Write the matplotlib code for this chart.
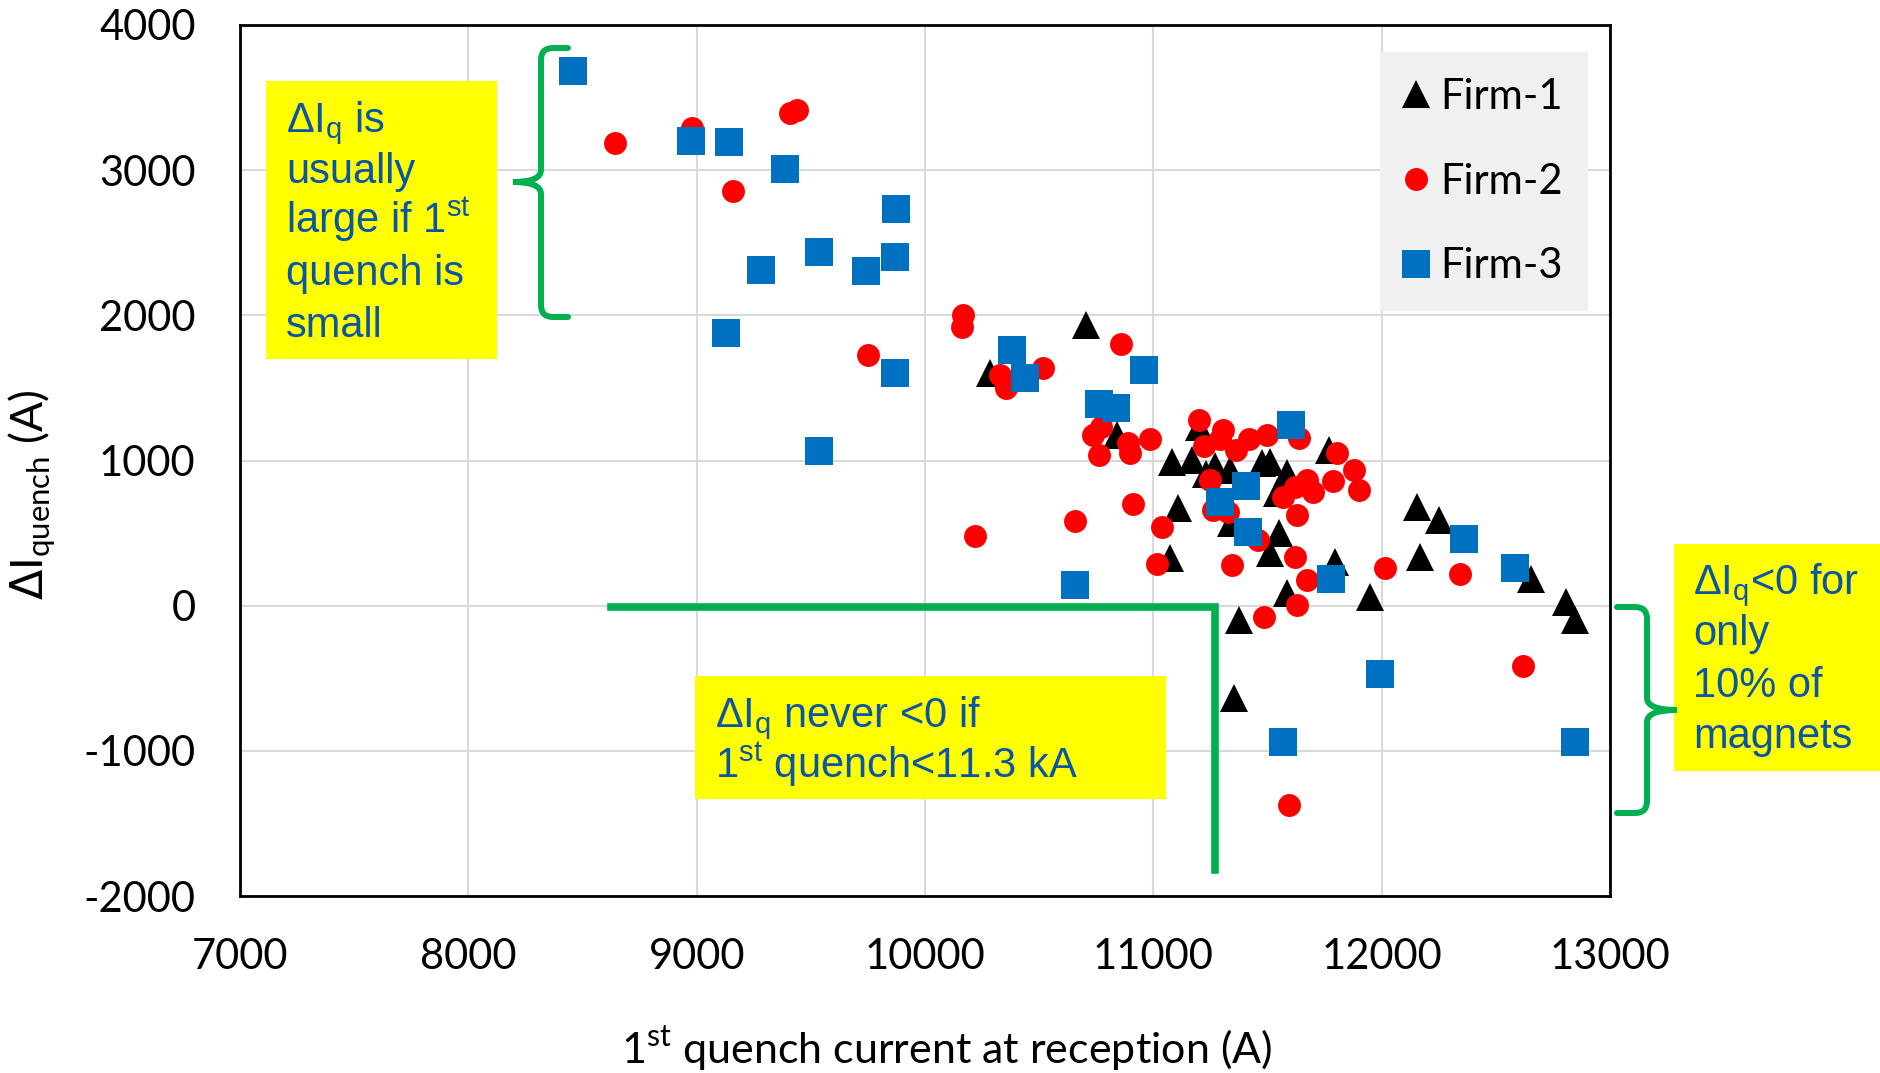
import matplotlib
matplotlib.use('Agg')
import matplotlib.pyplot as plt
import matplotlib.transforms as mtransforms
from matplotlib.path import Path
from matplotlib.patches import PathPatch, Rectangle

# Firm-1 (black triangles)
firm1_x = [10285, 10705, 10840, 11080, 11168, 11110, 11073, 11198, 11230, 11270,
           11336, 11475, 11512, 11585, 11541, 11771, 11340, 11552, 11512, 11796,
           11587, 11377, 11353, 11947, 12154, 12252, 12166, 12655, 12808, 12848]
firm1_y = [1600, 1933, 1175, 991, 1003, 670, 325, 1232, 905, 960,
           934, 980, 991, 911, 773, 1072, 570, 498, 360, 302,
           84, -100, -636, 61, 681, 589, 336, 187, 26, -100]

# Firm-2 (red circles)
firm2_x = [8643, 8978, 9409, 9438, 9159, 10168, 10161, 9749, 10515, 10330,
           10355, 10860, 10735, 10770, 10760, 10890, 10900, 10985, 10910, 10655,
           10220, 11040, 11015, 11198, 11220, 11307, 11290, 11363, 11417, 11497,
           11636, 11804, 11880, 11902, 11786, 11701, 11672, 11621, 11570, 11628,
           11249, 11263, 11329, 11460, 11621, 11675, 11628, 11485, 11346, 12015,
           12341, 12621, 11595]
firm2_y = [3190, 3289, 3396, 3415, 2855, 2002, 1921, 1726, 1640, 1590,
           1500, 1800, 1175, 1230, 1040, 1120, 1050, 1150, 700, 580,
           480, 540, 290, 1278, 1099, 1210, 1145, 1072, 1145, 1175,
           1152, 1049, 934, 796, 858, 784, 865, 819, 750, 624,
           865, 658, 646, 451, 336, 176, 3, -77, 279, 261,
           215, -417, -1371]

# Firm-3 (blue squares)
firm3_x = [8459, 8973, 9142, 9387, 9873, 9536, 9869, 9282, 9742, 9129,
           9869, 9536, 10380, 10438, 10960, 10763, 10837, 10657, 11604, 11405,
           11290, 11415, 11779, 12360, 12585, 11993, 11568, 12848]
firm3_y = [3686, 3201, 3196, 3008, 2733, 2436, 2402, 2312, 2307, 1880,
           1604, 1066, 1761, 1570, 1623, 1389, 1363, 141, 1244, 826,
           715, 509, 185, 460, 261, -472, -941, -941]

x_ticks = [7000, 8000, 9000, 10000, 11000, 12000, 13000]
y_ticks = [-2000, -1000, 0, 1000, 2000, 3000, 4000]

plt.rcParams['axes.unicode_minus'] = False
tick_font = ['Lato', 'DejaVu Sans']
note_font = ['Liberation Sans', 'DejaVu Sans']
note_color = '#0A55A5'
green = '#00B050'
yellow = '#FFFF00'

W, H = 1880, 1073
fig = plt.figure(figsize=(W / 100, H / 100), dpi=100)
ax = fig.add_axes([240 / W, 1 - 896 / H, 1370 / W, 871 / H])
# pixel coordinates measured from the top-left corner of the figure
px = mtransforms.Affine2D().scale(1 / W, -1 / H).translate(0, 1) + fig.transFigure

ax.plot(firm1_x, firm1_y, '^', color='black', markersize=19.5, markeredgewidth=0, label='Firm-1')
ax.plot(firm2_x, firm2_y, 'o', color='#FF0000', markersize=16.5, markeredgewidth=0, label='Firm-2')
ax.plot(firm3_x, firm3_y, 's', color='#0070C0', markersize=20, markeredgewidth=0, label='Firm-3')

ax.set_xlim(7000, 13000)
ax.set_ylim(-2000, 4000)
ax.set_xticks(x_ticks)
ax.set_yticks(y_ticks)
ax.set_xticklabels([str(v) for v in x_ticks], fontfamily=tick_font, fontsize=30)
ax.set_yticklabels([str(v) for v in y_ticks], fontfamily=tick_font, fontsize=30)
ax.tick_params(axis='both', length=0)
ax.tick_params(axis='x', pad=30)
ax.tick_params(axis='y', pad=32)
ax.set_axisbelow(True)
ax.grid(True, color='#D9D9D9', linewidth=1.5)
for sp in ax.spines.values():
    sp.set_linewidth(2)
    sp.set_color('black')

leg = ax.legend(loc='upper left', bbox_to_anchor=(1380 / W, 1 - 52 / H),
                bbox_transform=fig.transFigure, borderaxespad=0,
                facecolor='#F0F0F0', edgecolor='none', framealpha=1, fancybox=False,
                prop={'family': tick_font, 'size': 30},
                handlelength=0.5, handletextpad=0.32, labelspacing=1.12, borderpad=0.62)

# axis labels
fig.text(947, 1063, '1$^\\mathregular{st}$ quench current at reception (A)', transform=px,
         ha='center', va='baseline', fontsize=31, fontfamily=tick_font)
fig.text(32, 495, '$\\Delta$I$_\\mathregular{quench}$ (A)', transform=px, rotation=90,
         ha='center', va='center', fontsize=32, fontfamily=tick_font)


def note_box(x0, y0, x1, y1, lines, tx, baselines, size=30):
    fig.add_artist(Rectangle((x0, y0), x1 - x0, y1 - y0, transform=px,
                             facecolor=yellow, edgecolor='none', zorder=3))
    for s, b in zip(lines, baselines):
        fig.text(tx, b, s, transform=px, ha='left', va='baseline', fontsize=size,
                 fontfamily=note_font, color=note_color, zorder=4)


note_box(266, 81, 497, 359,
         ['ΔI$_\\mathregular{q}$ is', 'usually', 'large if 1$^\\mathregular{st}$', 'quench is', 'small'],
         286, [132, 183, 233, 285, 337])
note_box(695, 676, 1166, 799,
         ['ΔI$_\\mathregular{q}$ never <0 if', '1$^\\mathregular{st}$ quench<11.3 kA'],
         715, [727, 778])
note_box(1674, 544, 1880, 771,
         ['ΔI$_\\mathregular{q}$<0 for', 'only', '10% of', 'magnets'],
         1693, [594, 645, 697, 748])

# green L-shaped marker at zero
fig.add_artist(plt.Line2D([611, 1215, 1215], [607, 607, 870], transform=px,
                          color=green, linewidth=5.5, solid_joinstyle='miter', zorder=3))


def brace(xe, xv, xt, ytop, ymid, ybot, r=12):
    s = 1 if xv > xe else -1
    verts = [(xe, ytop), (xv - s * r, ytop), (xv, ytop), (xv, ytop + r),
             (xv, ymid - r), (xv, ymid), (xt, ymid),
             (xv, ymid), (xv, ymid + r),
             (xv, ybot - r), (xv, ybot), (xv - s * r, ybot), (xe, ybot)]
    codes = [Path.MOVETO, Path.LINETO, Path.CURVE3, Path.CURVE3,
             Path.LINETO, Path.CURVE3, Path.CURVE3,
             Path.CURVE3, Path.CURVE3,
             Path.LINETO, Path.CURVE3, Path.CURVE3, Path.LINETO]
    fig.add_artist(PathPatch(Path(verts, codes), transform=px, facecolor='none',
                             edgecolor=green, linewidth=4.3, capstyle='round', zorder=3))


brace(568, 541, 513, 48, 182, 317)
brace(1617, 1647, 1677, 607, 710, 813)

fig.savefig('out.png', dpi=100)
